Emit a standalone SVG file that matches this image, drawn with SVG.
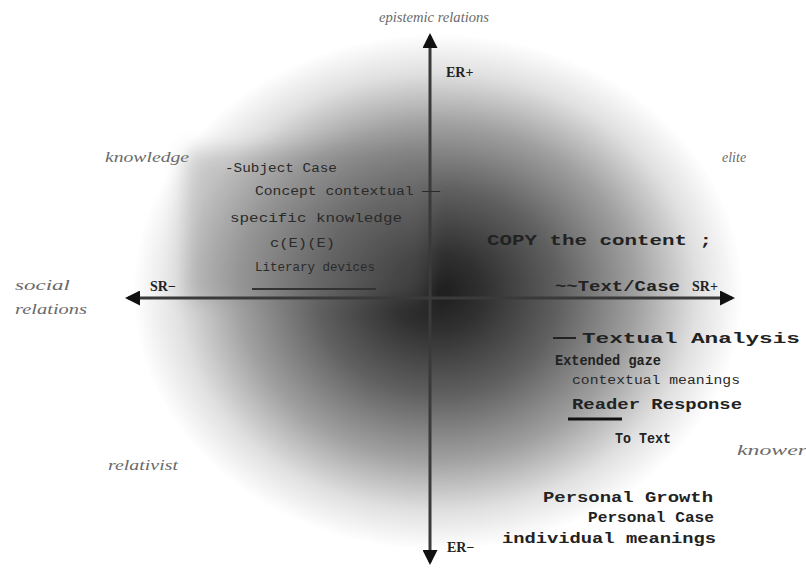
<svg xmlns="http://www.w3.org/2000/svg" width="806" height="571" viewBox="0 0 806 571">
<style>
.q{font-family:"Liberation Serif",serif;font-style:italic;font-size:14px;fill:#6a6a6a}
.ax{font-family:"Liberation Serif",serif;font-weight:bold;font-size:14px;fill:#222}
.m{font-family:"Liberation Mono",monospace;font-weight:bold;font-size:15px;fill:#222}
.s{font-family:"Liberation Mono",monospace;font-size:12px;fill:#2a2a2a}
.axis{stroke:#3a3a3a;stroke-width:3;fill:none}
</style>
<defs>
<radialGradient id="blob" cx="0.5" cy="0.5" r="0.5">
<stop offset="0" stop-color="#1c1c1c"/>
<stop offset="0.15" stop-color="#303030"/>
<stop offset="0.4" stop-color="#606060"/>
<stop offset="0.65" stop-color="#a0a0a0"/>
<stop offset="0.85" stop-color="#e0e0e0"/>
<stop offset="1" stop-color="#fff"/>
</radialGradient>
<filter id="blur" x="-20%" y="-20%" width="140%" height="140%"><feGaussianBlur stdDeviation="10"/></filter>
<marker id="ah" viewBox="0 0 10 10" refX="8" refY="5" markerWidth="5" markerHeight="5" orient="auto"><path d="M0,0 L10,5 L0,10 z" fill="#111"/></marker>
</defs>
<rect width="806" height="571" fill="#fff"/>
<ellipse cx="438" cy="292" rx="305" ry="258" fill="url(#blob)"/>
<rect x="185" y="150" width="245" height="150" fill="#7a7a7a" opacity="0.3" filter="url(#blur)"/>
<g id="connectors">
<line class="axis" x1="430" y1="300" x2="430" y2="36" marker-end="url(#ah)"/>
<line class="axis" x1="430" y1="300" x2="430" y2="562" marker-end="url(#ah)"/>
<line class="axis" x1="430" y1="298" x2="128" y2="298" marker-end="url(#ah)"/>
<line class="axis" x1="430" y1="298" x2="732" y2="298" marker-end="url(#ah)"/>
</g>
<g id="axis-labels">
<text class="q" x="379" y="22" textLength="110" lengthAdjust="spacingAndGlyphs">epistemic relations</text>
<text class="ax" x="446" y="77">ER+</text>
<text class="ax" x="447" y="552">ER−</text>
<text class="q" x="15" y="290" textLength="55" lengthAdjust="spacingAndGlyphs">social</text>
<text class="q" x="15" y="314" textLength="72" lengthAdjust="spacingAndGlyphs">relations</text>
<text class="ax" x="150" y="291">SR−</text>
<text class="ax" x="692" y="291">SR+</text>
</g>
<g id="quadrants">
<text class="q" x="105" y="162" textLength="84" lengthAdjust="spacingAndGlyphs">knowledge</text>
<text class="q" x="722" y="162">elite</text>
<text class="q" x="108" y="470" textLength="70" lengthAdjust="spacingAndGlyphs">relativist</text>
<text class="q" x="737" y="455" textLength="70" lengthAdjust="spacingAndGlyphs">knower</text>
</g>
<g id="upper-left">
<text class="s" x="225" y="172" textLength="112" lengthAdjust="spacingAndGlyphs">-Subject Case</text>
<text class="s" x="255" y="195" textLength="185" lengthAdjust="spacingAndGlyphs">Concept  contextual  ——</text>
<text class="s" x="230" y="222" textLength="172" lengthAdjust="spacingAndGlyphs">specific knowledge</text>
<text class="s" x="270" y="247" textLength="65" lengthAdjust="spacingAndGlyphs">c(E)(E)</text>
<text class="s" x="255" y="271" textLength="120" lengthAdjust="spacingAndGlyphs">Literary devices</text>
<line x1="252" y1="289" x2="376" y2="289" stroke="#333" stroke-width="2"/>
</g>
<g id="upper-right">
<text class="m" x="487" y="245" textLength="225" lengthAdjust="spacingAndGlyphs">COPY the content ;</text>
<text class="m" x="555" y="291" textLength="125" lengthAdjust="spacingAndGlyphs">~~Text/Case</text>
</g>
<g id="lower-right">
<line x1="553" y1="338" x2="576" y2="338" stroke="#222" stroke-width="2"/>
<text class="m" x="582" y="343" textLength="218" lengthAdjust="spacingAndGlyphs">Textual Analysis</text>
<text class="m" x="555" y="365" textLength="106" lengthAdjust="spacingAndGlyphs">Extended gaze</text>
<text class="s" x="572" y="384" textLength="168" lengthAdjust="spacingAndGlyphs">contextual meanings</text>
<text class="m" x="572" y="409" textLength="170" lengthAdjust="spacingAndGlyphs">Reader Response</text>
<line x1="568" y1="419" x2="622" y2="419" stroke="#111" stroke-width="3"/>
<text class="m" x="615" y="443" textLength="56" lengthAdjust="spacingAndGlyphs">To Text</text>
<text class="m" x="543" y="502" textLength="170" lengthAdjust="spacingAndGlyphs">Personal Growth</text>
<text class="m" x="588" y="522" textLength="126" lengthAdjust="spacingAndGlyphs">Personal Case</text>
<text class="m" x="502" y="543" textLength="214" lengthAdjust="spacingAndGlyphs">individual meanings</text>
</g>
</svg>
